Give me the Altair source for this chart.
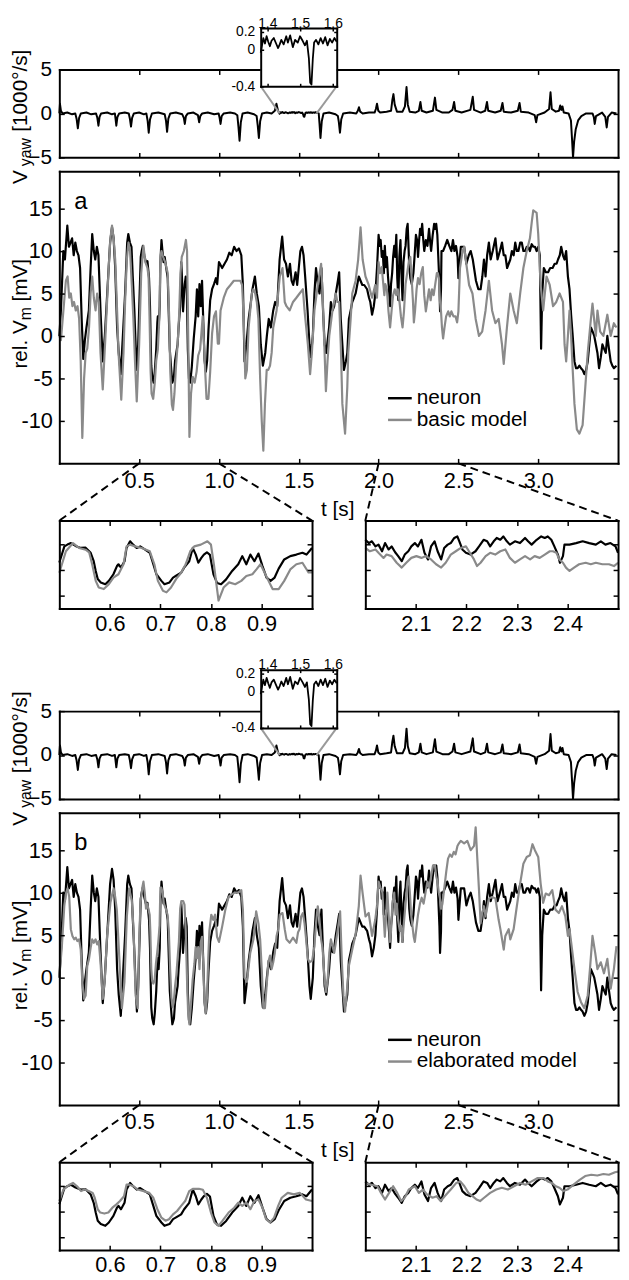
import altair as alt
import pandas as pd

# ---------------------------------------------------------------- data
# yaw velocity [1000 deg/s], (t [s], value)
yaw = [
(0.000,0.0),(0.004,1.1),(0.010,0.3),(0.020,0.0),(0.050,0.1),(0.080,-0.1),(0.100,0.0),
(0.108,-0.6),(0.116,-1.7),(0.124,-0.5),(0.135,0.0),(0.170,0.1),(0.200,-0.1),(0.230,0.0),
(0.238,-0.5),(0.245,-1.4),(0.252,-0.4),(0.262,0.0),(0.300,0.1),(0.330,-0.1),(0.348,0.0),
(0.352,-0.6),(0.357,-1.4),(0.364,-0.4),(0.375,0.0),(0.410,0.1),(0.435,0.0),
(0.442,-0.6),(0.449,-1.5),(0.456,-0.5),(0.467,0.0),(0.500,0.1),(0.530,-0.1),(0.545,0.0),
(0.553,-0.8),(0.560,-2.2),(0.568,-0.7),(0.580,0.0),(0.620,0.1),(0.660,-0.1),
(0.668,-0.8),(0.675,-2.1),(0.683,-0.6),(0.695,0.0),(0.730,0.1),(0.770,-0.1),
(0.780,-0.5),(0.786,-1.2),(0.793,-0.3),(0.805,0.0),(0.840,0.1),(0.868,-0.2),
(0.876,-1.0),(0.883,-0.3),(0.895,0.0),(0.930,0.1),(0.970,-0.1),(0.998,0.0),
(1.004,-0.5),(1.010,-1.2),(1.017,-0.3),(1.030,0.0),(1.070,0.1),(1.100,0.0),(1.115,-0.2),
(1.122,-1.5),(1.129,-3.1),(1.137,-1.0),(1.148,0.0),(1.180,0.1),(1.220,-0.1),(1.236,-0.3),
(1.243,-1.4),(1.250,-2.8),(1.258,-0.9),(1.270,0.0),(1.300,0.1),(1.330,0.0),(1.350,0.3),
(1.360,1.1),(1.370,0.3),
(1.380,-0.03),(1.384,0.05),(1.388,0.13),(1.393,0.07),(1.398,0.15),(1.403,0.09),(1.408,0.04),
(1.413,0.10),(1.420,0.13),(1.427,0.07),(1.433,0.02),(1.438,0.06),(1.443,0.11),(1.450,0.06),
(1.458,0.15),(1.463,0.08),(1.470,0.16),(1.478,0.03),(1.485,0.11),(1.493,0.08),(1.500,0.15),
(1.508,0.10),(1.515,0.05),(1.521,0.10),(1.527,-0.09),(1.531,-0.36),(1.535,-0.38),(1.539,-0.10),
(1.543,0.08),(1.549,0.11),(1.556,0.06),(1.563,0.13),(1.570,0.07),(1.577,0.14),(1.584,0.05),
(1.591,0.12),(1.598,0.08),(1.605,0.13),(1.612,0.09),
(1.625,0.0),(1.630,-1.2),(1.636,-2.8),(1.644,-0.9),(1.655,0.0),(1.690,0.1),(1.730,-0.1),
(1.745,-0.3),(1.751,-1.0),(1.758,-2.2),(1.766,-0.7),(1.778,0.0),(1.820,0.1),(1.860,0.0),
(1.870,0.3),(1.877,0.7),(1.885,0.2),(1.900,0.0),(1.940,0.1),(1.975,0.1),(1.983,0.5),
(1.990,1.1),(1.998,0.3),(2.010,0.1),(2.050,0.2),(2.078,0.3),(2.086,1.5),(2.093,2.2),
(2.101,1.0),(2.115,0.2),(2.150,0.2),(2.165,0.8),(2.175,3.0),(2.183,1.0),(2.195,0.2),
(2.230,0.1),(2.252,0.3),(2.262,1.3),(2.270,0.3),(2.300,0.1),(2.340,0.3),(2.353,1.8),
(2.362,0.4),(2.400,0.1),(2.440,0.1),(2.463,0.4),(2.473,1.3),(2.481,0.3),(2.520,0.1),
(2.575,0.4),(2.590,1.9),(2.598,0.4),(2.640,0.1),(2.668,0.3),(2.679,1.3),(2.687,0.3),
(2.730,0.1),(2.765,0.3),(2.776,1.2),(2.784,0.2),(2.830,0.1),(2.872,0.3),(2.883,1.2),
(2.891,0.2),(2.940,0.1),(2.978,-0.2),(2.987,-1.0),(2.995,-0.2),(3.040,0.1),(3.068,0.5),
(3.077,2.4),(3.085,0.5),(3.110,0.2),(3.130,0.3),(3.138,0.9),(3.145,0.4),(3.152,0.8),
(3.160,0.1),(3.190,0.0),(3.205,-0.8),(3.212,-3.0),(3.218,-5.0),(3.225,-3.2),(3.235,-1.8),
(3.250,-0.8),(3.270,-0.3),(3.300,0.0),(3.340,0.0),(3.348,-0.4),(3.354,-1.2),(3.362,-0.3),
(3.400,0.1),(3.420,-0.4),(3.429,-1.6),(3.437,-0.4),(3.460,0.1),(3.490,0.0)]

# neuron rel. Vm [mV]
neuron = [
(0.000,0.0),(0.010,3.0),(0.025,10.0),(0.035,9.0),(0.050,13.0),(0.060,10.5),(0.070,11.0),
(0.080,11.5),(0.090,9.5),(0.100,11.0),(0.110,10.0),(0.120,9.5),(0.130,8.0),(0.140,2.0),
(0.150,-2.7),(0.160,-0.5),(0.170,1.0),(0.185,3.0),(0.196,8.0),(0.206,12.0),(0.216,10.0),
(0.225,9.0),(0.235,10.5),(0.245,9.5),(0.258,3.0),(0.272,-3.0),(0.285,0.0),(0.300,5.0),
(0.318,11.0),(0.330,12.8),(0.340,11.5),(0.350,8.0),(0.362,1.0),(0.372,-2.0),(0.385,-4.5),
(0.398,0.0),(0.412,5.0),(0.425,11.0),(0.432,12.0),(0.442,11.0),(0.452,10.5),(0.460,7.0),
(0.470,3.0),(0.478,-1.0),(0.486,-4.0),(0.494,-1.0),
(0.500,3.0),(0.510,9.3),(0.516,10.0),(0.523,10.6),(0.532,9.5),(0.542,8.7),(0.552,8.8),
(0.562,6.8),(0.568,3.5),(0.572,-0.3),(0.576,-3.5),(0.582,-4.8),(0.591,-5.5),(0.598,-4.2),
(0.607,-1.6),(0.614,1.6),(0.617,2.3),(0.622,1.0),(0.629,3.5),(0.633,8.7),(0.640,11.3),
(0.646,10.0),(0.653,8.7),(0.660,9.3),(0.669,8.1),(0.679,6.8),(0.686,2.3),(0.692,-1.6),
(0.702,-4.2),(0.708,-5.5),(0.718,-4.8),(0.725,-2.9),(0.731,-2.2),(0.741,-1.0),(0.747,1.0),
(0.757,3.5),(0.764,8.7),(0.770,6.1),(0.775,2.9),(0.781,4.8),(0.786,6.1),(0.792,7.0),
(0.798,6.0),(0.805,-1.6),(0.812,-5.0),(0.820,-5.5),(0.830,-3.6),(0.842,-0.3),(0.854,2.3),
(0.862,5.5),(0.870,2.3),(0.878,6.1),(0.886,3.5),(0.894,6.5),(0.902,1.6),(0.910,-2.9),
(0.918,-4.2),(0.926,-2.9),(0.934,0.6),(0.945,4.2),(0.957,5.5),(0.969,6.1),(0.981,6.8),
(0.989,6.1),(1.000,8.7),
(1.020,8.0),(1.035,8.5),(1.050,9.0),(1.065,9.8),(1.080,9.5),(1.095,10.5),(1.110,10.0),
(1.125,10.3),(1.140,9.5),(1.150,6.0),(1.160,-3.0),(1.172,-1.0),(1.186,2.0),(1.200,4.0),
(1.210,5.5),(1.225,7.0),(1.237,5.0),(1.250,3.5),(1.262,-1.0),(1.275,-3.5),(1.290,-2.0),
(1.300,0.0),(1.312,2.0),(1.325,1.0),(1.340,3.0),(1.352,4.0),(1.365,3.5),(1.380,9.0),
(1.396,11.7),(1.408,9.0),(1.420,8.5),(1.432,7.0),(1.445,8.5),(1.455,6.5),(1.465,6.0),
(1.480,7.5),(1.490,6.0),(1.500,8.0),(1.510,10.0),(1.520,10.5),(1.530,9.5),(1.540,7.0),
(1.555,3.0),(1.567,-1.0),(1.575,-2.5),(1.588,0.0),(1.598,5.0),(1.608,8.0),(1.620,6.0),
(1.630,5.0),(1.642,8.0),(1.652,3.0),(1.662,-1.0),(1.672,-2.0),(1.690,1.0),(1.701,4.0),
(1.712,3.0),(1.722,3.5),(1.732,5.0),(1.745,6.5),(1.753,7.5),(1.763,2.0),(1.773,-1.0),
(1.783,-4.0),(1.795,-3.0),(1.804,-2.0),(1.814,2.0),(1.825,3.0),(1.835,4.0),(1.846,4.5),
(1.856,5.0),(1.866,6.0),(1.876,7.0),(1.887,6.5),(1.898,6.0),(1.910,6.0),(1.928,5.5),
(1.940,4.5),(1.948,4.0),(1.959,2.5),(1.970,3.5),(1.980,5.0),(1.990,8.0),
(2.000,11.9),(2.007,10.6),(2.013,11.3),(2.020,9.3),(2.026,10.0),(2.033,7.4),(2.039,10.6),
(2.046,8.1),(2.052,9.3),(2.059,7.0),(2.065,5.5),(2.072,3.5),(2.078,6.1),(2.085,7.4),
(2.091,9.3),(2.098,10.6),(2.104,9.3),(2.111,11.9),(2.117,6.8),(2.124,4.2),(2.130,9.3),
(2.137,11.3),(2.143,7.4),(2.150,4.2),(2.156,8.7),(2.163,10.0),(2.169,10.6),(2.176,12.6),
(2.182,13.2),(2.186,11.3),(2.192,8.1),(2.199,6.8),(2.208,6.1),(2.218,7.4),(2.225,9.3),
(2.234,11.9),(2.241,11.3),(2.247,9.3),(2.254,11.3),(2.260,12.6),(2.267,11.9),(2.273,13.2),
(2.280,11.3),(2.286,10.0),(2.296,11.3),(2.306,10.6),(2.316,12.6),(2.322,11.3),(2.329,10.0),
(2.339,11.9),(2.348,13.2),(2.355,12.6),(2.361,13.2),(2.368,11.9),(2.374,9.3),(2.381,6.1),
(2.385,2.9),(2.391,5.5),(2.394,10.0),(2.404,10.0),(2.417,10.6),(2.430,11.3),(2.443,10.6),
(2.456,10.0),(2.466,11.3),(2.475,10.0),(2.485,10.6),(2.495,9.3),(2.500,6.8),
(2.515,10.5),(2.536,10.5),(2.550,8.5),(2.565,9.5),(2.577,10.0),(2.590,9.0),(2.598,8.0),
(2.610,6.5),(2.625,5.5),(2.639,5.5),(2.650,7.0),(2.660,9.0),(2.670,7.0),(2.680,9.5),
(2.691,11.0),(2.702,9.0),(2.715,10.0),(2.732,11.5),(2.745,9.0),(2.760,10.0),(2.773,11.0),
(2.784,9.5),(2.794,9.5),(2.805,8.0),(2.815,8.5),(2.825,9.0),(2.835,10.0),(2.846,9.5),
(2.856,11.0),(2.866,10.0),(2.876,10.0),(2.887,11.0),(2.897,11.0),(2.907,10.0),(2.918,10.0),
(2.928,10.5),(2.938,10.5),(2.948,10.0),(2.959,10.8),(2.970,10.5),(2.980,10.5),(2.990,10.0),
(3.000,10.5),(3.010,9.5),(3.018,-1.5),(3.025,5.0),(3.035,8.0),(3.048,7.5),(3.062,7.5),
(3.075,8.0),(3.090,8.0),(3.103,8.5),(3.115,8.5),(3.124,9.0),(3.135,9.5),(3.144,10.5),
(3.155,9.5),(3.165,9.0),(3.175,10.0),(3.186,7.0),(3.196,5.5),(3.206,2.5),(3.216,0.0),
(3.227,-3.0),(3.237,-3.8),(3.247,-3.8),(3.258,-3.5),(3.268,-3.8),(3.278,-4.0),(3.289,-4.5),
(3.300,-4.0),(3.310,-3.0),(3.320,-1.0),(3.330,1.0),(3.341,0.5),(3.351,0.0),(3.361,-1.0),
(3.371,-2.0),(3.381,-3.8),(3.392,-2.5),(3.402,-1.0),(3.412,-1.5),(3.423,-2.0),(3.433,0.0),
(3.443,-1.5),(3.454,-3.0),(3.464,-3.5),(3.474,-3.8),(3.490,-3.5)]

# basic model rel. Vm [mV]
basic = [
(0.000,0.0),(0.010,-0.5),(0.030,4.0),(0.041,6.5),(0.052,7.0),(0.062,4.5),(0.072,5.0),
(0.082,3.5),(0.092,4.0),(0.103,3.0),(0.114,3.5),(0.124,2.0),(0.134,-3.0),(0.144,-12.0),
(0.155,-5.0),(0.165,-2.0),(0.175,-1.5),(0.186,1.0),(0.196,5.0),(0.206,7.0),(0.216,4.5),
(0.227,3.0),(0.237,5.0),(0.247,4.0),(0.258,-2.0),(0.272,-6.3),(0.289,0.0),(0.309,8.0),
(0.320,11.5),(0.330,13.0),(0.340,11.5),(0.350,9.0),(0.360,4.0),(0.371,-2.0),(0.388,-7.5),
(0.402,-2.0),(0.412,4.0),(0.423,9.0),(0.433,11.0),(0.443,10.0),(0.454,6.0),(0.464,2.0),
(0.474,-3.0),(0.485,-7.7),(0.493,-4.0),
(0.500,-1.0),(0.513,7.4),(0.527,10.6),(0.539,8.7),(0.552,8.0),(0.559,7.0),(0.565,2.3),
(0.572,-4.2),(0.578,-6.8),(0.588,-7.4),(0.598,-5.5),(0.607,-2.9),(0.617,-1.6),(0.627,2.3),
(0.633,9.3),(0.640,10.0),(0.650,9.3),(0.663,8.7),(0.679,7.4),(0.688,2.3),(0.695,-4.2),
(0.705,-8.1),(0.712,-8.7),(0.721,-6.8),(0.731,-3.5),(0.741,-1.0),(0.750,2.3),(0.759,7.4),
(0.767,9.3),(0.780,10.0),(0.793,11.3),(0.800,10.0),(0.806,2.0),(0.815,-11.9),(0.825,-6.8),
(0.836,-4.8),(0.848,-5.5),(0.860,-4.2),(0.870,-2.3),(0.882,-1.6),(0.890,0.3),(0.898,2.3),
(0.906,-0.9),(0.914,-4.2),(0.922,-7.4),(0.934,-7.4),(0.945,-4.2),(0.957,0.3),(0.969,2.3),
(0.981,2.9),(0.993,-0.9),(1.000,-0.9),
(1.010,3.0),(1.030,4.5),(1.050,5.5),(1.072,6.0),(1.093,6.5),(1.113,6.5),(1.134,6.5),
(1.145,6.0),(1.155,2.0),(1.165,-5.0),(1.175,-4.0),(1.186,1.0),(1.196,3.0),(1.206,5.0),
(1.216,5.5),(1.227,5.0),(1.237,4.0),(1.247,2.0),(1.258,-5.0),(1.268,-10.0),(1.278,-13.5),
(1.288,-8.0),(1.299,-4.0),(1.309,-4.0),(1.320,-3.5),(1.330,-2.0),(1.340,1.0),(1.361,3.0),
(1.381,7.0),(1.398,8.0),(1.412,4.0),(1.423,3.5),(1.443,3.0),(1.464,4.0),(1.485,4.5),
(1.505,5.0),(1.526,5.5),(1.536,3.0),(1.557,-1.0),(1.571,-4.5),(1.582,-2.0),(1.598,3.0),
(1.619,6.0),(1.640,8.5),(1.649,5.0),(1.660,-1.0),(1.670,-6.5),(1.680,-3.0),(1.691,0.0),
(1.711,3.0),(1.732,5.0),(1.742,4.0),(1.753,4.0),(1.763,-1.0),(1.773,-8.0),(1.790,-11.5),
(1.804,-6.0),(1.810,-2.0),(1.825,2.0),(1.835,5.0),(1.856,6.5),(1.872,9.0),(1.887,12.8),
(1.900,9.0),(1.918,7.0),(1.938,6.0),(1.959,4.5),(1.979,6.0),(1.990,4.5),
(2.000,8.7),(2.009,7.4),(2.020,8.1),(2.026,6.8),(2.036,4.8),(2.042,6.1),(2.052,5.5),
(2.062,2.9),(2.072,1.0),(2.081,2.9),(2.091,4.8),(2.101,5.5),(2.111,4.8),(2.120,5.5),
(2.130,4.2),(2.140,2.3),(2.150,1.0),(2.159,2.9),(2.169,6.1),(2.179,7.4),(2.189,8.7),
(2.199,9.3),(2.205,7.4),(2.215,4.2),(2.221,1.6),(2.228,2.9),(2.238,5.5),(2.247,6.8),
(2.257,6.1),(2.267,7.4),(2.277,8.1),(2.286,4.8),(2.296,2.9),(2.306,4.2),(2.316,5.5),
(2.326,4.2),(2.335,5.5),(2.345,4.8),(2.355,6.1),(2.365,7.4),(2.371,7.4),(2.378,6.8),
(2.384,4.2),(2.391,2.9),(2.397,1.0),(2.404,-0.3),(2.413,1.0),(2.423,2.3),(2.436,2.9),
(2.446,2.3),(2.456,2.9),(2.469,2.3),(2.482,2.3),(2.492,1.6),(2.500,2.9),
(2.510,8.0),(2.526,10.0),(2.536,10.5),(2.546,9.0),(2.567,6.0),(2.588,5.0),(2.608,2.0),
(2.629,0.0),(2.649,0.5),(2.670,3.0),(2.691,6.5),(2.711,3.0),(2.732,1.5),(2.752,2.0),
(2.773,-1.0),(2.784,-3.3),(2.804,1.0),(2.825,5.0),(2.846,3.0),(2.866,1.5),(2.887,5.0),
(2.907,8.0),(2.928,10.0),(2.948,11.5),(2.960,13.5),(2.969,14.8),(2.990,14.5),(3.000,12.0),
(3.015,6.0),(3.031,3.0),(3.052,7.0),(3.072,6.0),(3.093,3.5),(3.113,4.0),(3.134,5.0),
(3.155,4.0),(3.165,-1.0),(3.175,-3.0),(3.186,0.0),(3.196,3.0),(3.206,0.0),(3.216,-4.0),
(3.227,-8.0),(3.242,-11.0),(3.258,-11.5),(3.278,-10.5),(3.295,-6.0),(3.310,-2.0),
(3.330,2.0),(3.340,3.8),(3.361,0.0),(3.371,3.0),(3.388,0.5),(3.408,0.0),(3.433,2.5),
(3.454,0.0),(3.474,1.5),(3.490,1.0)]

# elaborated model rel. Vm [mV]
elaborated = [
(0.000,0.0),(0.016,3.7),(0.031,8.4),(0.041,9.9),(0.052,10.5),(0.062,9.5),(0.072,5.7),
(0.082,4.9),(0.093,4.5),(0.103,4.7),(0.113,4.3),(0.124,4.5),(0.134,3.3),(0.144,-0.5),
(0.155,-2.5),(0.165,-2.1),(0.175,1.4),(0.186,2.2),(0.196,3.5),(0.206,4.5),(0.216,4.1),
(0.227,4.5),(0.237,3.9),(0.247,4.3),(0.258,1.8),(0.272,-2.5),(0.285,-0.2),(0.299,4.9),
(0.320,8.8),(0.330,9.7),(0.340,10.5),(0.350,9.5),(0.360,8.0),(0.375,2.6),(0.392,-3.6),
(0.408,-0.5),(0.423,7.2),(0.437,10.5),(0.454,9.1),(0.465,5.7),(0.478,-2.1),(0.491,-3.6),
(0.500,4.2),(0.508,8.7),(0.520,10.6),(0.527,11.3),(0.535,10.0),(0.543,8.1),(0.550,8.7),
(0.558,8.1),(0.566,7.4),(0.570,5.5),(0.576,1.0),(0.581,-0.3),(0.589,-0.7),(0.597,-0.3),
(0.605,1.6),(0.613,2.9),(0.620,4.2),(0.628,6.1),(0.633,10.6),(0.639,10.6),(0.647,10.0),
(0.655,8.7),(0.667,8.1),(0.678,7.4),(0.686,5.5),(0.694,1.0),(0.702,-2.3),(0.710,-3.5),
(0.717,-2.9),(0.725,-1.0),(0.733,0.3),(0.741,2.3),(0.749,4.2),(0.757,8.1),(0.764,9.0),
(0.776,9.0),(0.784,8.6),(0.792,5.5),(0.800,-0.3),(0.807,-4.2),(0.815,-5.5),(0.823,-3.5),
(0.835,-0.3),(0.846,1.6),(0.854,3.6),(0.862,2.3),(0.870,3.6),(0.878,1.0),(0.886,4.2),
(0.894,4.8),(0.902,1.6),(0.909,-2.9),(0.917,-4.2),(0.925,-2.3),(0.933,2.3),(0.940,5.5),
(0.952,7.4),(0.964,6.8),(0.976,7.4),(0.988,4.8),(1.000,4.2),
(1.020,6.0),(1.040,8.0),(1.060,9.5),(1.080,9.8),(1.100,10.0),(1.120,10.0),(1.140,10.3),
(1.150,8.0),(1.160,0.0),(1.175,-0.5),(1.196,2.9),(1.216,4.5),(1.233,7.8),(1.247,6.4),
(1.258,4.5),(1.268,1.0),(1.278,-3.6),(1.288,-3.6),(1.299,-0.9),(1.309,1.8),(1.320,2.6),
(1.330,1.0),(1.340,1.8),(1.350,2.9),(1.361,4.9),(1.371,5.7),(1.381,7.4),(1.398,7.6),
(1.412,5.7),(1.423,4.5),(1.443,4.1),(1.464,4.7),(1.485,4.1),(1.495,5.3),(1.505,5.7),
(1.515,7.2),(1.526,7.6),(1.536,6.4),(1.546,4.5),(1.557,2.2),(1.567,1.8),(1.584,2.0),
(1.598,3.7),(1.608,6.4),(1.619,8.4),(1.629,7.0),(1.640,4.5),(1.649,3.5),(1.660,0.2),
(1.670,-1.7),(1.680,-0.5),(1.691,2.9),(1.701,4.5),(1.722,2.9),(1.732,4.1),(1.753,6.8),
(1.759,7.8),(1.770,1.8),(1.780,-2.1),(1.790,-4.0),(1.804,-1.0),(1.814,1.4),(1.835,3.3),
(1.856,5.1),(1.876,8.4),(1.887,12.0),(1.900,9.9),(1.918,7.2),(1.938,7.6),(1.959,4.9),
(1.979,6.8),(1.990,8.5),
(2.000,11.3),(2.012,10.6),(2.024,10.0),(2.031,7.4),(2.039,4.8),(2.047,7.4),(2.055,10.0),
(2.063,7.4),(2.071,4.2),(2.078,5.5),(2.086,8.7),(2.098,10.0),(2.106,7.4),(2.114,8.7),
(2.122,6.8),(2.133,5.5),(2.141,6.1),(2.149,4.2),(2.157,6.1),(2.169,8.7),(2.180,11.3),
(2.188,11.9),(2.196,10.0),(2.204,7.4),(2.212,6.1),(2.220,4.8),(2.227,4.2),(2.235,5.5),
(2.247,7.4),(2.259,8.7),(2.270,9.4),(2.282,8.7),(2.294,10.0),(2.306,11.3),(2.317,10.6),
(2.329,11.9),(2.341,13.2),(2.353,13.2),(2.361,11.9),(2.369,11.3),(2.377,10.0),(2.384,9.4),
(2.392,8.1),(2.400,8.7),(2.412,10.6),(2.424,12.5),(2.435,14.0),(2.447,14.5),(2.459,14.2),
(2.471,14.8),(2.482,14.5),(2.494,15.5),(2.500,15.7),
(2.515,16.1),(2.536,15.8),(2.556,16.1),(2.577,15.0),(2.598,15.5),(2.608,17.7),(2.619,13.8),
(2.629,10.3),(2.639,6.4),(2.649,7.6),(2.660,8.4),(2.670,7.2),(2.691,9.3),(2.711,9.5),
(2.732,9.3),(2.752,6.8),(2.763,5.7),(2.784,3.3),(2.794,4.9),(2.815,5.7),(2.825,4.5),
(2.846,5.7),(2.866,8.4),(2.887,11.1),(2.907,13.4),(2.928,14.2),(2.948,14.4),(2.964,15.7),
(2.979,15.0),(3.000,14.2),(3.015,11.1),(3.031,8.8),(3.047,9.9),(3.068,9.7),(3.088,10.3),
(3.108,8.0),(3.129,7.6),(3.149,8.4),(3.170,7.2),(3.186,4.9),(3.196,5.7),(3.212,3.3),
(3.227,1.0),(3.247,-1.7),(3.268,-2.9),(3.289,-3.6),(3.310,-2.1),(3.324,1.0),(3.340,4.9),
(3.357,2.9),(3.371,1.0),(3.392,1.8),(3.412,0.5),(3.433,2.2),(3.454,-1.3),(3.474,1.0),
(3.490,3.7)]

# ticks / windows / labels
main_xticks = [0.5, 1.0, 1.5, 2.0, 2.5, 3.0]
main_yticks = [-10, -5, 0, 5, 10, 15]
yaw_yticks = [-5, 0, 5]
inset_xticks = [1.4, 1.5, 1.6]
inset_yticks = [-0.4, 0, 0.2]
zoomL_xticks = [0.6, 0.7, 0.8, 0.9]
zoomR_xticks = [2.1, 2.2, 2.3, 2.4]
zoom_yticks = [-10, 0, 10]
zoom_windows = [(0.5, 1.0), (2.0, 2.5)]
inset_window = (1.38, 1.612)
model_labels = ["basic model", "elaborated model"]
panel_letters = ["a", "b"]

# ---------------------------------------------------------------- layout
W, H = 566, 1272
PAD_L, PAD_R = 52, 3
HALF = [0, 650]
FONT = "Liberation Sans"
INK, GREY, LINK = "#000000", "#8a8a8a", "#9a9a9a"
TICK_FS = 22

T_MAIN = (0.0, 3.5)
V_YAW = (-5, 5)
V_INSET = (-0.4, 0.24)
V_MAIN = (-15, 19.4)

X_MAIN = (0, 566)
X_INSET = (204, 281)
X_ZOOM = [(0, 256), (310, 566)]
Y_INSET = (71, 12)
Y_YAW = (143, 54)
Y_MAIN = (453, 157)
Y_ZOOM = (600, 511)

INT_EXPR = "datum.value < 0 ? '-' + format(-datum.value, 'd') : format(datum.value, 'd')"
INSET_EXPR = ("datum.value == 0 ? '0' : (datum.value < 0 ? '-' + format(-datum.value, '.1f')"
              " : format(datum.value, '.1f'))")


def sc(dom, rng):
    return alt.Scale(domain=list(dom), range=list(rng), zero=False, nice=False)


def sh(r, o):
    return (r[0] + o, r[1] + o)


def border_axis(orient, offset, values, size, z):
    return alt.Axis(orient=orient, offset=offset, values=values, labels=False, ticks=True,
                    tickSize=size, tickWidth=1.5, tickColor=INK, domain=True, domainWidth=2,
                    domainColor=INK, domainCap="square", grid=False, title=None, zindex=z)


def label_axis(orient, offset, values, pad, size, expr=None, fmt=None, baseline=None):
    kw = dict(orient=orient, offset=offset, values=values, labels=True, ticks=False,
              domain=False, grid=False, title=None, labelPadding=pad, labelFontSize=size,
              labelFont=FONT, labelColor=INK, labelOverlap=False, labelFlush=False, zindex=3)
    if expr:
        kw["labelExpr"] = expr
    if fmt:
        kw["format"] = fmt
    if baseline:
        kw["labelBaseline"] = baseline
    return alt.Axis(**kw)


def panel(xd, xr, yd, yr, xticks, yticks, series, xlab=None, ylab=None, tick=5, z=3):
    yb, yt = yr
    xl, xrr = xr
    x_axes = [border_axis("top", -yb, xticks, tick, z),
              border_axis("bottom", yt - H, xticks, tick, z), xlab]
    y_axes = [border_axis("right", xl - W, yticks, tick, z),
              border_axis("left", -xrr, yticks, tick, z), ylab]
    out = []
    for i in range(max(3, len(series))):
        if i < len(series):
            df, color, width = series[i]
            base = alt.Chart(df).mark_line(color=color, strokeWidth=width, strokeJoin="round")
        else:
            base = alt.Chart(pd.DataFrame({"t": [xd[0]], "v": [yd[0]]})).mark_point(opacity=0)
        xa = x_axes[i] if i < 3 else None
        ya = y_axes[i] if i < 3 else None
        out.append(base.encode(
            x=alt.X("t:Q", scale=sc(xd, xr), axis=xa),
            y=alt.Y("v:Q", scale=sc(yd, yr), axis=ya)))
    return out


def txt(s, x, y, size, angle=0, align="left", baseline="alphabetic"):
    mk = dict(font=FONT, fontSize=size, align=align, baseline=baseline, color=INK)
    if angle:
        mk["angle"] = angle
    return alt.Chart(pd.DataFrame({"s": [s]})).mark_text(**mk).encode(
        text="s:N", x=alt.value(x), y=alt.value(y))


def hrule(x1, x2, y, color):
    return alt.Chart(pd.DataFrame({"k": [0]})).mark_rule(color=color, strokeWidth=2.5).encode(
        x=alt.value(x1), x2=alt.value(x2), y=alt.value(y))


def window(df, lo, hi):
    return df[(df.t >= lo - 1e-9) & (df.t <= hi + 1e-9)]


yaw_df = pd.DataFrame(yaw, columns=["t", "v"])
neu_df = pd.DataFrame(neuron, columns=["t", "v"])
model_dfs = [pd.DataFrame(basic, columns=["t", "v"]), pd.DataFrame(elaborated, columns=["t", "v"])]

layers = []
for h, o in enumerate(HALF):
    mod_df = model_dfs[h]
    # yaw panel
    layers += panel(T_MAIN, X_MAIN, V_YAW, sh(Y_YAW, o), main_xticks, yaw_yticks,
                    [(yaw_df, INK, 2)], xlab=None,
                    ylab=label_axis("left", 0, yaw_yticks, 8, 21, fmt="d"), z=0)
    # inset connectors
    for t_end, px in zip(inset_window, X_INSET):
        cdf = pd.DataFrame({"t": [t_end], "v": [0.0]})
        layers.append(alt.Chart(cdf).mark_rule(color=LINK, strokeWidth=2).encode(
            x=alt.X("t:Q", scale=sc(T_MAIN, X_MAIN), axis=None),
            y=alt.Y("v:Q", scale=sc(V_YAW, sh(Y_YAW, o)), axis=None),
            x2=alt.value(px), y2=alt.value(Y_INSET[0] + o)))
    # inset background
    bg = pd.DataFrame({"t0": [inset_window[0]], "t1": [inset_window[1]],
                       "v0": [V_INSET[0]], "v1": [V_INSET[1]]})
    layers.append(alt.Chart(bg).mark_rect(color="white").encode(
        x=alt.X("t0:Q", scale=sc(inset_window, X_INSET), axis=None), x2="t1:Q",
        y=alt.Y("v0:Q", scale=sc(V_INSET, sh(Y_INSET, o)), axis=None), y2="v1:Q"))
    # inset panel
    layers += panel(inset_window, X_INSET, V_INSET, sh(Y_INSET, o), inset_xticks, inset_yticks,
                    [(window(yaw_df, *inset_window), INK, 1.8)],
                    xlab=label_axis("top", -(Y_INSET[1] + o), inset_xticks, 1, 14,
                                    fmt=".1f", baseline="alphabetic"),
                    ylab=label_axis("left", -X_INSET[0], inset_yticks, 6, 14, expr=INSET_EXPR),
                    tick=3)
    # main Vm panel
    layers += panel(T_MAIN, X_MAIN, V_MAIN, sh(Y_MAIN, o), main_xticks, main_yticks,
                    [(neu_df, INK, 2.2), (mod_df, GREY, 2.2)],
                    xlab=label_axis("bottom", Y_MAIN[0] + o - H, main_xticks, 7, TICK_FS, fmt=".1f"),
                    ylab=label_axis("left", 0, main_yticks, 7, TICK_FS, expr=INT_EXPR))
    # zoom panels and dashed connectors
    for (lo, hi), xr, xt in zip(zoom_windows, X_ZOOM, [zoomL_xticks, zoomR_xticks]):
        layers += panel((lo, hi), xr, V_MAIN, sh(Y_ZOOM, o), xt, zoom_yticks,
                        [(window(neu_df, lo, hi), INK, 2.2), (window(mod_df, lo, hi), GREY, 2.2)],
                        xlab=label_axis("bottom", Y_ZOOM[0] + o - H, xt, 5, TICK_FS, fmt=".1f"))
        for t_end, px in zip((lo, hi), xr):
            cdf = pd.DataFrame({"t": [t_end], "v": [V_MAIN[0]]})
            layers.append(alt.Chart(cdf).mark_rule(color=INK, strokeWidth=2,
                                                   strokeDash=[8, 5]).encode(
                x=alt.X("t:Q", scale=sc(T_MAIN, X_MAIN), axis=None),
                y=alt.Y("v:Q", scale=sc(V_MAIN, sh(Y_MAIN, o)), axis=None),
                x2=alt.value(px), y2=alt.value(Y_ZOOM[1] + o)))
    # axis titles (rotated)
    layers.append(txt("V", -33, 170 + o, 21, 270))
    layers.append(txt("yaw", -29, 152 + o, 16, 270))
    layers.append(txt("[1000°/s]", -33, 117 + o, 21, 270))
    layers.append(txt("rel. V", -33, 357 + o, 21, 270))
    layers.append(txt("m", -29, 308 + o, 16, 270))
    layers.append(txt("[mV]", -33, 289 + o, 21, 270))
    layers.append(txt("t [s]", 282, 500 + o, 21, align="center", baseline="middle"))
    layers.append(txt(panel_letters[h], 15, 195 + o, 24))
    # legend
    layers.append(hrule(333, 357, 387 + o, INK))
    layers.append(hrule(333, 357, 409 + o, GREY))
    layers.append(txt("neuron", 362, 387 + o, 21, baseline="middle"))
    layers.append(txt(model_labels[h], 362, 409 + o, 21, baseline="middle"))

chart = alt.layer(*layers).properties(
    width=W, height=H,
    autosize=alt.AutoSizeParams(type="none"),
    padding={"left": PAD_L, "right": PAD_R, "top": 0, "bottom": 0},
    background="white",
).resolve_scale(x="independent", y="independent").resolve_axis(
    x="independent", y="independent").configure_view(stroke="transparent")

chart.save("out.html", embed_options={"renderer": "svg", "actions": False})
